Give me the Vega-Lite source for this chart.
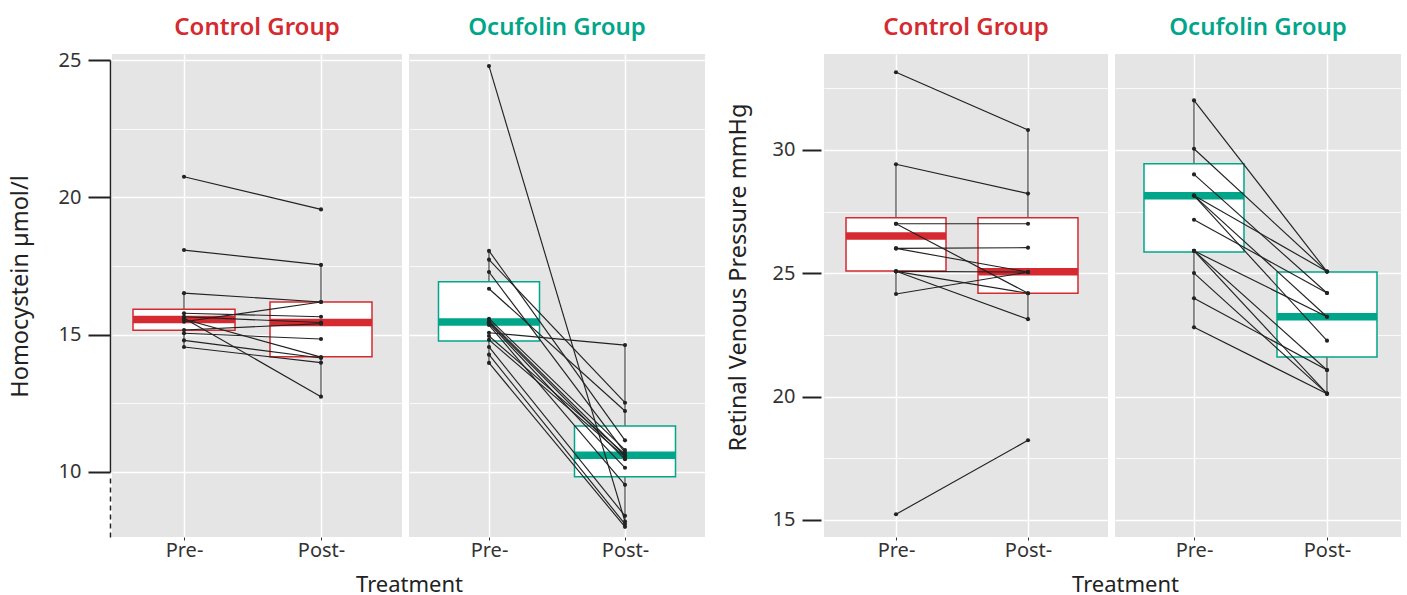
{
  "$schema": "https://vega.github.io/schema/vega-lite/v6.json",
  "padding": {"left": 8, "top": 16, "right": 3, "bottom": 3},
  "config": {
    "font": "Noto Sans",
    "view": {"fill": "#e5e5e5", "stroke": null},
    "title": {"font": "Noto Sans"},
    "axis": {"labelFont": "Noto Sans", "titleFont": "Noto Sans"}
  },
  "datasets": {
    "hcy": [
      {"group": "Control", "id": "c1", "time": "Pre-", "value": 20.75}, {"group": "Control", "id": "c1", "time": "Post-", "value": 19.56},
      {"group": "Control", "id": "c2", "time": "Pre-", "value": 18.08}, {"group": "Control", "id": "c2", "time": "Post-", "value": 17.54},
      {"group": "Control", "id": "c3", "time": "Pre-", "value": 16.51}, {"group": "Control", "id": "c3", "time": "Post-", "value": 16.19},
      {"group": "Control", "id": "c4", "time": "Pre-", "value": 15.47}, {"group": "Control", "id": "c4", "time": "Post-", "value": 16.19},
      {"group": "Control", "id": "c5", "time": "Pre-", "value": 15.78}, {"group": "Control", "id": "c5", "time": "Post-", "value": 15.65},
      {"group": "Control", "id": "c6", "time": "Pre-", "value": 15.65}, {"group": "Control", "id": "c6", "time": "Post-", "value": 15.44},
      {"group": "Control", "id": "c7", "time": "Pre-", "value": 15.6}, {"group": "Control", "id": "c7", "time": "Post-", "value": 12.74},
      {"group": "Control", "id": "c8", "time": "Pre-", "value": 15.56}, {"group": "Control", "id": "c8", "time": "Post-", "value": 14.18},
      {"group": "Control", "id": "c9", "time": "Pre-", "value": 15.17}, {"group": "Control", "id": "c9", "time": "Post-", "value": 15.4},
      {"group": "Control", "id": "c10", "time": "Pre-", "value": 15.05}, {"group": "Control", "id": "c10", "time": "Post-", "value": 14.84},
      {"group": "Control", "id": "c11", "time": "Pre-", "value": 14.79}, {"group": "Control", "id": "c11", "time": "Post-", "value": 14.15},
      {"group": "Control", "id": "c12", "time": "Pre-", "value": 14.55}, {"group": "Control", "id": "c12", "time": "Post-", "value": 13.98},
      {"group": "Ocufolin", "id": "o1", "time": "Pre-", "value": 24.78}, {"group": "Ocufolin", "id": "o1", "time": "Post-", "value": 8.19},
      {"group": "Ocufolin", "id": "o2", "time": "Pre-", "value": 18.05}, {"group": "Ocufolin", "id": "o2", "time": "Post-", "value": 11.15},
      {"group": "Ocufolin", "id": "o3", "time": "Pre-", "value": 17.73}, {"group": "Ocufolin", "id": "o3", "time": "Post-", "value": 12.52},
      {"group": "Ocufolin", "id": "o4", "time": "Pre-", "value": 17.28}, {"group": "Ocufolin", "id": "o4", "time": "Post-", "value": 10.7},
      {"group": "Ocufolin", "id": "o5", "time": "Pre-", "value": 16.67}, {"group": "Ocufolin", "id": "o5", "time": "Post-", "value": 12.22},
      {"group": "Ocufolin", "id": "o6", "time": "Pre-", "value": 15.58}, {"group": "Ocufolin", "id": "o6", "time": "Post-", "value": 10.8},
      {"group": "Ocufolin", "id": "o7", "time": "Pre-", "value": 15.5}, {"group": "Ocufolin", "id": "o7", "time": "Post-", "value": 10.59},
      {"group": "Ocufolin", "id": "o8", "time": "Pre-", "value": 15.45}, {"group": "Ocufolin", "id": "o8", "time": "Post-", "value": 10.46},
      {"group": "Ocufolin", "id": "o9", "time": "Pre-", "value": 15.41}, {"group": "Ocufolin", "id": "o9", "time": "Post-", "value": 10.15},
      {"group": "Ocufolin", "id": "o10", "time": "Pre-", "value": 15.35}, {"group": "Ocufolin", "id": "o10", "time": "Post-", "value": 9.53},
      {"group": "Ocufolin", "id": "o11", "time": "Pre-", "value": 15.07}, {"group": "Ocufolin", "id": "o11", "time": "Post-", "value": 14.62},
      {"group": "Ocufolin", "id": "o12", "time": "Pre-", "value": 14.95}, {"group": "Ocufolin", "id": "o12", "time": "Post-", "value": 10.65},
      {"group": "Ocufolin", "id": "o13", "time": "Pre-", "value": 14.81}, {"group": "Ocufolin", "id": "o13", "time": "Post-", "value": 10.55},
      {"group": "Ocufolin", "id": "o14", "time": "Pre-", "value": 14.55}, {"group": "Ocufolin", "id": "o14", "time": "Post-", "value": 8.4},
      {"group": "Ocufolin", "id": "o15", "time": "Pre-", "value": 14.27}, {"group": "Ocufolin", "id": "o15", "time": "Post-", "value": 8.1},
      {"group": "Ocufolin", "id": "o16", "time": "Pre-", "value": 13.97}, {"group": "Ocufolin", "id": "o16", "time": "Post-", "value": 8.0}
    ],
    "rvp": [
      {"group": "Control", "id": "c1", "time": "Pre-", "value": 33.15}, {"group": "Control", "id": "c1", "time": "Post-", "value": 30.81},
      {"group": "Control", "id": "c2", "time": "Pre-", "value": 29.42}, {"group": "Control", "id": "c2", "time": "Post-", "value": 28.23},
      {"group": "Control", "id": "c3", "time": "Pre-", "value": 27.01}, {"group": "Control", "id": "c3", "time": "Post-", "value": 27.01},
      {"group": "Control", "id": "c4", "time": "Pre-", "value": 27.01}, {"group": "Control", "id": "c4", "time": "Post-", "value": 24.19},
      {"group": "Control", "id": "c5", "time": "Pre-", "value": 26.01}, {"group": "Control", "id": "c5", "time": "Post-", "value": 26.04},
      {"group": "Control", "id": "c6", "time": "Pre-", "value": 26.01}, {"group": "Control", "id": "c6", "time": "Post-", "value": 25.05},
      {"group": "Control", "id": "c7", "time": "Pre-", "value": 25.08}, {"group": "Control", "id": "c7", "time": "Post-", "value": 25.05},
      {"group": "Control", "id": "c8", "time": "Pre-", "value": 25.08}, {"group": "Control", "id": "c8", "time": "Post-", "value": 24.19},
      {"group": "Control", "id": "c9", "time": "Pre-", "value": 25.08}, {"group": "Control", "id": "c9", "time": "Post-", "value": 23.14},
      {"group": "Control", "id": "c10", "time": "Pre-", "value": 24.16}, {"group": "Control", "id": "c10", "time": "Post-", "value": 25.05},
      {"group": "Control", "id": "c11", "time": "Pre-", "value": 15.23}, {"group": "Control", "id": "c11", "time": "Post-", "value": 18.23},
      {"group": "Ocufolin", "id": "o1", "time": "Pre-", "value": 32.01}, {"group": "Ocufolin", "id": "o1", "time": "Post-", "value": 25.07},
      {"group": "Ocufolin", "id": "o2", "time": "Pre-", "value": 30.05}, {"group": "Ocufolin", "id": "o2", "time": "Post-", "value": 25.07},
      {"group": "Ocufolin", "id": "o3", "time": "Pre-", "value": 29.01}, {"group": "Ocufolin", "id": "o3", "time": "Post-", "value": 24.2},
      {"group": "Ocufolin", "id": "o4", "time": "Pre-", "value": 28.15}, {"group": "Ocufolin", "id": "o4", "time": "Post-", "value": 25.07},
      {"group": "Ocufolin", "id": "o5", "time": "Pre-", "value": 28.15}, {"group": "Ocufolin", "id": "o5", "time": "Post-", "value": 23.24},
      {"group": "Ocufolin", "id": "o6", "time": "Pre-", "value": 28.15}, {"group": "Ocufolin", "id": "o6", "time": "Post-", "value": 22.27},
      {"group": "Ocufolin", "id": "o7", "time": "Pre-", "value": 27.17}, {"group": "Ocufolin", "id": "o7", "time": "Post-", "value": 24.2},
      {"group": "Ocufolin", "id": "o8", "time": "Pre-", "value": 25.91}, {"group": "Ocufolin", "id": "o8", "time": "Post-", "value": 23.24},
      {"group": "Ocufolin", "id": "o9", "time": "Pre-", "value": 25.91}, {"group": "Ocufolin", "id": "o9", "time": "Post-", "value": 21.08},
      {"group": "Ocufolin", "id": "o10", "time": "Pre-", "value": 25.91}, {"group": "Ocufolin", "id": "o10", "time": "Post-", "value": 20.12},
      {"group": "Ocufolin", "id": "o11", "time": "Pre-", "value": 25.01}, {"group": "Ocufolin", "id": "o11", "time": "Post-", "value": 20.12},
      {"group": "Ocufolin", "id": "o12", "time": "Pre-", "value": 23.99}, {"group": "Ocufolin", "id": "o12", "time": "Post-", "value": 21.08},
      {"group": "Ocufolin", "id": "o13", "time": "Pre-", "value": 22.81}, {"group": "Ocufolin", "id": "o13", "time": "Post-", "value": 20.12}
    ],
    "hbox": [
      {"group": "Control", "time": "Pre-", "lo": 14.55, "q1": 15.16, "med": 15.55, "q3": 15.92, "hi": 16.51},
      {"group": "Control", "time": "Post-", "lo": 12.74, "q1": 14.19, "med": 15.44, "q3": 16.19, "hi": 17.54},
      {"group": "Ocufolin", "time": "Pre-", "lo": 13.97, "q1": 14.77, "med": 15.46, "q3": 16.93, "hi": 18.05},
      {"group": "Ocufolin", "time": "Post-", "lo": 8.0, "q1": 9.82, "med": 10.61, "q3": 11.67, "hi": 14.62}
    ],
    "rbox": [
      {"group": "Control", "time": "Pre-", "lo": 24.16, "q1": 25.09, "med": 26.51, "q3": 27.25, "hi": 29.42},
      {"group": "Control", "time": "Post-", "lo": 23.14, "q1": 24.19, "med": 25.06, "q3": 27.25, "hi": 30.81},
      {"group": "Ocufolin", "time": "Pre-", "lo": 22.81, "q1": 25.86, "med": 28.14, "q3": 29.44, "hi": 32.01},
      {"group": "Ocufolin", "time": "Post-", "lo": 20.12, "q1": 21.61, "med": 23.24, "q3": 25.05, "hi": 25.07}
    ]
  },
  "spacing": 21,
  "hconcat": [
    {
      "bounds": "flush",
      "spacing": 7,
      "hconcat": [
        {
          "width": 290, "height": 483,
          "title": {"text": "Control Group", "color": "#d42a30", "fontSize": 24, "fontWeight": 600, "anchor": "middle", "offset": 10},
          "layer": [
            {
              "data": {"name": "hbox"},
              "transform": [{"filter": "datum.group == 'Control'"}],
              "mark": {"type": "rule", "color": "#222", "strokeWidth": 1},
              "encoding": {
                "x": {"field": "time", "type": "ordinal", "scale": {"type": "point", "domain": ["Pre-", "Post-"], "padding": 0.5584, "align": 0.4706},
                  "axis": {"title": "Treatment", "titleX": 297, "titleFontSize": 22, "titleFontWeight": "normal", "titleColor": "#222", "titlePadding": 14,
                    "labelAngle": 0, "labelFontSize": 20, "labelColor": "#333", "labelPadding": 0, "tickColor": "#333", "tickSize": 3, "domain": false, "grid": true, "gridColor": "white", "gridWidth": 1.5}},
                "y": {"field": "lo", "type": "quantitative", "scale": {"domain": [7.63, 25.22], "nice": false, "zero": false},
                  "axis": {"title": "Homocystein µmol/l", "titleY": 232, "titleFontSize": 23.5, "titleFontWeight": "normal", "titleColor": "#222", "titlePadding": 26,
                    "values": [10, 12.5, 15, 17.5, 20, 22.5, 25],
                    "labelExpr": "datum.value % 5 == 0 ? format(datum.value, 'd') : ''",
                    "labelFontSize": 20, "labelColor": "#333", "labelPadding": 7,
                    "tickSize": 22, "tickWidth": 2, "tickColor": "#222",
                    "tickOpacity": {"condition": {"test": "datum.value % 5 == 0", "value": 1}, "value": 0},
                    "offset": 2, "domain": true, "domainColor": "#222", "domainWidth": 1.5,
                    "domainDash": [5, 4, 5, 4, 5, 4, 5, 4, 5, 4, 5, 4, 5, 6, 412, 200],
                    "grid": true, "gridColor": "white",
                    "gridWidth": {"condition": {"test": "datum.value % 5 == 0", "value": 1.6}, "value": 0.8}}},
                "y2": {"field": "hi"}
              }
            },
            {
              "data": {"name": "hbox"},
              "transform": [{"filter": "datum.group == 'Control'"}],
              "mark": {"type": "bar", "fill": "white", "stroke": "#d42a30", "strokeWidth": 1.5, "width": 102},
              "encoding": {"x": {"field": "time", "type": "ordinal"}, "y": {"field": "q1", "type": "quantitative"}, "y2": {"field": "q3"}}
            },
            {
              "data": {"name": "hbox"},
              "transform": [{"filter": "datum.group == 'Control'"}],
              "mark": {"type": "tick", "orient": "horizontal", "color": "#d42a30", "thickness": 7.5, "size": 102, "opacity": 1},
              "encoding": {"x": {"field": "time", "type": "ordinal"}, "y": {"field": "med", "type": "quantitative"}}
            },
            {
              "data": {"name": "hcy"},
              "transform": [{"filter": "datum.group == 'Control'"}],
              "mark": {"type": "line", "color": "#222", "strokeWidth": 1.15},
              "encoding": {"x": {"field": "time", "type": "ordinal"}, "y": {"field": "value", "type": "quantitative"}, "detail": {"field": "id"}}
            },
            {
              "data": {"name": "hcy"},
              "transform": [{"filter": "datum.group == 'Control'"}],
              "mark": {"type": "point", "filled": true, "color": "#222", "size": 17, "opacity": 1},
              "encoding": {"x": {"field": "time", "type": "ordinal"}, "y": {"field": "value", "type": "quantitative"}}
            }
          ]
        },
        {
          "width": 296, "height": 483,
          "title": {"text": "Ocufolin Group", "color": "#00a58a", "fontSize": 24, "fontWeight": 600, "anchor": "middle", "offset": 14},
          "layer": [
            {
              "data": {"name": "hbox"},
              "transform": [{"filter": "datum.group == 'Ocufolin'"}],
              "mark": {"type": "rule", "color": "#222", "strokeWidth": 1},
              "encoding": {
                "x": {"field": "time", "type": "ordinal", "scale": {"type": "point", "domain": ["Pre-", "Post-"], "padding": 0.5882, "align": 0.5},
                  "axis": {"title": null, "labelAngle": 0, "labelFontSize": 20, "labelColor": "#333", "labelPadding": 0, "tickColor": "#333", "tickSize": 3, "domain": false, "grid": true, "gridColor": "white", "gridWidth": 1.5}},
                "y": {"field": "lo", "type": "quantitative", "scale": {"domain": [7.63, 25.22], "nice": false, "zero": false},
                  "axis": {"title": null, "labels": false, "ticks": false, "domain": false,
                    "values": [10, 12.5, 15, 17.5, 20, 22.5, 25],
                    "grid": true, "gridColor": "white",
                    "gridWidth": {"condition": {"test": "datum.value % 5 == 0", "value": 1.6}, "value": 0.8}}},
                "y2": {"field": "hi"}
              }
            },
            {
              "data": {"name": "hbox"},
              "transform": [{"filter": "datum.group == 'Ocufolin'"}],
              "mark": {"type": "bar", "fill": "white", "stroke": "#00a58a", "strokeWidth": 1.5, "width": 101},
              "encoding": {"x": {"field": "time", "type": "ordinal"}, "y": {"field": "q1", "type": "quantitative"}, "y2": {"field": "q3"}}
            },
            {
              "data": {"name": "hbox"},
              "transform": [{"filter": "datum.group == 'Ocufolin'"}],
              "mark": {"type": "tick", "orient": "horizontal", "color": "#00a58a", "thickness": 7.5, "size": 101, "opacity": 1},
              "encoding": {"x": {"field": "time", "type": "ordinal"}, "y": {"field": "med", "type": "quantitative"}}
            },
            {
              "data": {"name": "hcy"},
              "transform": [{"filter": "datum.group == 'Ocufolin'"}],
              "mark": {"type": "line", "color": "#222", "strokeWidth": 1.15},
              "encoding": {"x": {"field": "time", "type": "ordinal"}, "y": {"field": "value", "type": "quantitative"}, "detail": {"field": "id"}}
            },
            {
              "data": {"name": "hcy"},
              "transform": [{"filter": "datum.group == 'Ocufolin'"}],
              "mark": {"type": "point", "filled": true, "color": "#222", "size": 17, "opacity": 1},
              "encoding": {"x": {"field": "time", "type": "ordinal"}, "y": {"field": "value", "type": "quantitative"}}
            }
          ]
        }
      ]
    },
    {
      "bounds": "flush",
      "spacing": 7,
      "hconcat": [
        {
          "width": 284, "height": 483,
          "title": {"text": "Control Group", "color": "#d42a30", "fontSize": 24, "fontWeight": 600, "anchor": "middle", "offset": 14},
          "layer": [
            {
              "data": {"name": "rbox"},
              "transform": [{"filter": "datum.group == 'Control'"}],
              "mark": {"type": "rule", "color": "#222", "strokeWidth": 1},
              "encoding": {
                "x": {"field": "time", "type": "ordinal", "scale": {"type": "point", "domain": ["Pre-", "Post-"], "padding": 0.5758, "align": 0.4737},
                  "axis": {"title": "Treatment", "titleX": 301, "titleFontSize": 22, "titleFontWeight": "normal", "titleColor": "#222", "titlePadding": 14,
                    "labelAngle": 0, "labelFontSize": 20, "labelColor": "#333", "labelPadding": 0, "tickColor": "#333", "tickSize": 3, "domain": false, "grid": true, "gridColor": "white", "gridWidth": 1.5}},
                "y": {"field": "lo", "type": "quantitative", "scale": {"domain": [14.31, 33.89], "nice": false, "zero": false},
                  "axis": {"title": "Retinal Venous Pressure mmHg", "titleY": 223, "titleFontSize": 23.5, "titleFontWeight": "normal", "titleColor": "#222", "titlePadding": 22,
                    "values": [15, 17.5, 20, 22.5, 25, 27.5, 30, 32.5],
                    "labelExpr": "datum.value % 5 == 0 ? format(datum.value, 'd') : ''",
                    "labelFontSize": 20, "labelColor": "#333", "labelPadding": 7,
                    "tickSize": 19, "tickWidth": 2, "tickColor": "#222",
                    "tickOpacity": {"condition": {"test": "datum.value % 5 == 0", "value": 1}, "value": 0},
                    "offset": 3, "domain": false,
                    "grid": true, "gridColor": "white",
                    "gridWidth": {"condition": {"test": "datum.value % 5 == 0", "value": 1.6}, "value": 0.8}}},
                "y2": {"field": "hi"}
              }
            },
            {
              "data": {"name": "rbox"},
              "transform": [{"filter": "datum.group == 'Control'"}],
              "mark": {"type": "bar", "fill": "white", "stroke": "#d42a30", "strokeWidth": 1.5, "width": 100},
              "encoding": {"x": {"field": "time", "type": "ordinal"}, "y": {"field": "q1", "type": "quantitative"}, "y2": {"field": "q3"}}
            },
            {
              "data": {"name": "rbox"},
              "transform": [{"filter": "datum.group == 'Control'"}],
              "mark": {"type": "tick", "orient": "horizontal", "color": "#d42a30", "thickness": 7.5, "size": 100, "opacity": 1},
              "encoding": {"x": {"field": "time", "type": "ordinal"}, "y": {"field": "med", "type": "quantitative"}}
            },
            {
              "data": {"name": "rvp"},
              "transform": [{"filter": "datum.group == 'Control'"}],
              "mark": {"type": "line", "color": "#222", "strokeWidth": 1.15},
              "encoding": {"x": {"field": "time", "type": "ordinal"}, "y": {"field": "value", "type": "quantitative"}, "detail": {"field": "id"}}
            },
            {
              "data": {"name": "rvp"},
              "transform": [{"filter": "datum.group == 'Control'"}],
              "mark": {"type": "point", "filled": true, "color": "#222", "size": 17, "opacity": 1},
              "encoding": {"x": {"field": "time", "type": "ordinal"}, "y": {"field": "value", "type": "quantitative"}}
            }
          ]
        },
        {
          "width": 286, "height": 483,
          "title": {"text": "Ocufolin Group", "color": "#00a58a", "fontSize": 24, "fontWeight": 600, "anchor": "middle", "offset": 14},
          "layer": [
            {
              "data": {"name": "rbox"},
              "transform": [{"filter": "datum.group == 'Ocufolin'"}],
              "mark": {"type": "rule", "color": "#222", "strokeWidth": 1},
              "encoding": {
                "x": {"field": "time", "type": "ordinal", "scale": {"type": "point", "domain": ["Pre-", "Post-"], "padding": 0.5752, "align": 0.5163},
                  "axis": {"title": null, "labelAngle": 0, "labelFontSize": 20, "labelColor": "#333", "labelPadding": 0, "tickColor": "#333", "tickSize": 3, "domain": false, "grid": true, "gridColor": "white", "gridWidth": 1.5}},
                "y": {"field": "lo", "type": "quantitative", "scale": {"domain": [14.31, 33.89], "nice": false, "zero": false},
                  "axis": {"title": null, "labels": false, "ticks": false, "domain": false,
                    "values": [15, 17.5, 20, 22.5, 25, 27.5, 30, 32.5],
                    "grid": true, "gridColor": "white",
                    "gridWidth": {"condition": {"test": "datum.value % 5 == 0", "value": 1.6}, "value": 0.8}}},
                "y2": {"field": "hi"}
              }
            },
            {
              "data": {"name": "rbox"},
              "transform": [{"filter": "datum.group == 'Ocufolin'"}],
              "mark": {"type": "bar", "fill": "white", "stroke": "#00a58a", "strokeWidth": 1.5, "width": 100},
              "encoding": {"x": {"field": "time", "type": "ordinal"}, "y": {"field": "q1", "type": "quantitative"}, "y2": {"field": "q3"}}
            },
            {
              "data": {"name": "rbox"},
              "transform": [{"filter": "datum.group == 'Ocufolin'"}],
              "mark": {"type": "tick", "orient": "horizontal", "color": "#00a58a", "thickness": 7.5, "size": 100, "opacity": 1},
              "encoding": {"x": {"field": "time", "type": "ordinal"}, "y": {"field": "med", "type": "quantitative"}}
            },
            {
              "data": {"name": "rvp"},
              "transform": [{"filter": "datum.group == 'Ocufolin'"}],
              "mark": {"type": "line", "color": "#222", "strokeWidth": 1.15},
              "encoding": {"x": {"field": "time", "type": "ordinal"}, "y": {"field": "value", "type": "quantitative"}, "detail": {"field": "id"}}
            },
            {
              "data": {"name": "rvp"},
              "transform": [{"filter": "datum.group == 'Ocufolin'"}],
              "mark": {"type": "point", "filled": true, "color": "#222", "size": 17, "opacity": 1},
              "encoding": {"x": {"field": "time", "type": "ordinal"}, "y": {"field": "value", "type": "quantitative"}}
            }
          ]
        }
      ]
    }
  ]
}
